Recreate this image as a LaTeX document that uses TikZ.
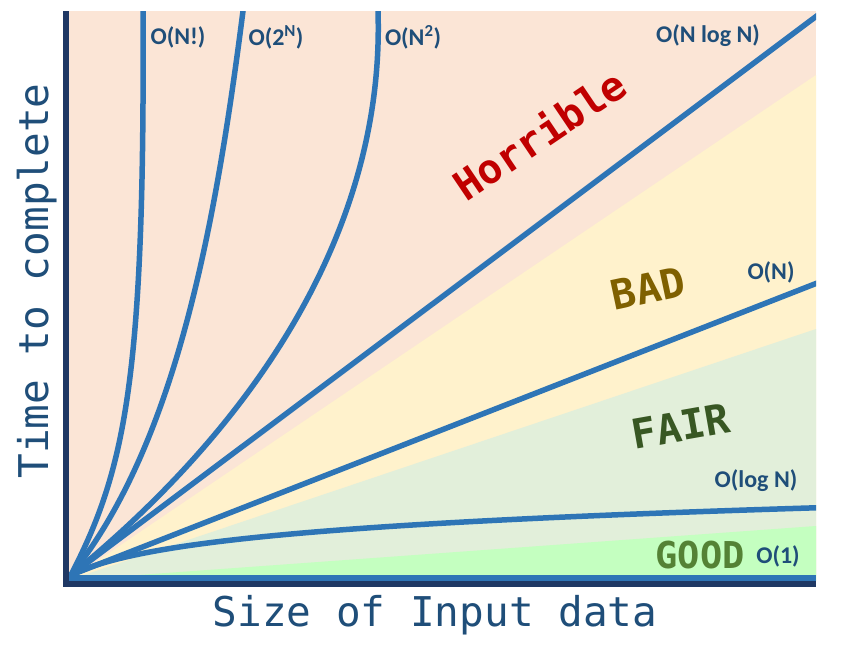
\documentclass[tikz,border=0pt]{standalone}
\usepackage{fontspec}
\setmonofont{DejaVu Sans Mono}
\newfontfamily\lblfont{Carlito}
\definecolor{peach}{HTML}{FBE5D6}
\definecolor{cream}{HTML}{FFF2CC}
\definecolor{palegreen}{HTML}{E2EFDA}
\definecolor{brightgreen}{HTML}{C4FFC0}
\definecolor{curveblue}{HTML}{2E75B6}
\definecolor{axisnavy}{HTML}{1F3864}
\definecolor{labelblue}{HTML}{1F4E79}
\definecolor{horred}{HTML}{C00000}
\definecolor{badgold}{HTML}{7F6000}
\definecolor{fairgreen}{HTML}{385723}
\definecolor{goodgreen}{HTML}{548235}
\tikzset{
  curve/.style={draw=curveblue, line width=5.5pt, line cap=round, line join=round},
  olabel/.style={text=labelblue, font=\lblfont\bfseries\fontsize{24}{24}\selectfont, inner sep=0pt},
  axislabel/.style={text=labelblue, font=\ttfamily\fontsize{41}{41}\selectfont, inner sep=0pt},
  zonelabel/.style={font=\ttfamily\bfseries\fontsize{41}{41}\selectfont, inner sep=0pt}
}
\begin{document}
\begin{tikzpicture}[x=1pt,y=-1pt]
\useasboundingbox (0,0) rectangle (860,653);
\fill[white] (0,0) rectangle (860,653);
% zones
\fill[peach] (69,11) rectangle (816,581);
\fill[cream] (69,580) -- (816,75) -- (816,581) -- cycle;
\fill[palegreen] (69,580) -- (816,329) -- (816,581) -- cycle;
\fill[brightgreen] (69,580) -- (816,526) -- (816,581) -- cycle;
% curves
\coordinate (origin) at (71,575);
\begin{scope}
\clip (69,11) rectangle (816,581);
\draw[curve] (origin) .. controls (125,470) and (145,380) .. (143,11) -- (143,0);
\draw[curve] (origin) .. controls (175,445) and (215,230) .. (243,11) -- (244,0);
\draw[curve] (origin) .. controls (255,425) and (385,230) .. (378,11) -- (378,0);
\draw[curve] (origin) -- (830,6);
\draw[curve] (origin) -- (830,278);
\draw[curve] plot[domain=71:830, samples=120, smooth] (\x, {575 - 24.3*ln(1+(\x-71)/50)});
\fill[curveblue] (69,575) rectangle (816,581);
\end{scope}
% axes
\fill[axisnavy] (63,11) rectangle (69,587);
\fill[axisnavy] (63,581) rectangle (816,587);
% curve labels
\node[olabel] (lfact) at (178,37) {O(N!)};
\node[olabel] (lexp) at (276,37) {O(2\textsuperscript{N})};
\node[olabel] (lsq) at (413,37) {O(N\textsuperscript{2})};
\node[olabel] (lnlogn) at (708,36) {O(N log N)};
\node[olabel] (ln) at (771,272) {O(N)};
\node[olabel] (llogn) at (756,481) {O(log N)};
\node[olabel] (lone) at (778,556) {O(1)};
% zone labels
\node[zonelabel, text=horred, rotate=34] (zhor) at (539,134) {Horrible};
\node[zonelabel, text=badgold, rotate=12] (zbad) at (648,288) {BAD};
\node[zonelabel, text=fairgreen, rotate=10] (zfair) at (681,426) {FAIR};
\node[zonelabel, text=goodgreen, font=\ttfamily\bfseries\fontsize{37}{37}\selectfont] (zgood) at (700,555) {GOOD};
% axis labels
\node[axislabel, rotate=90] (yl) at (37,281) {Time to complete};
\node[axislabel] (xl) at (435,615) {Size of Input data};
\end{tikzpicture}
\end{document}
